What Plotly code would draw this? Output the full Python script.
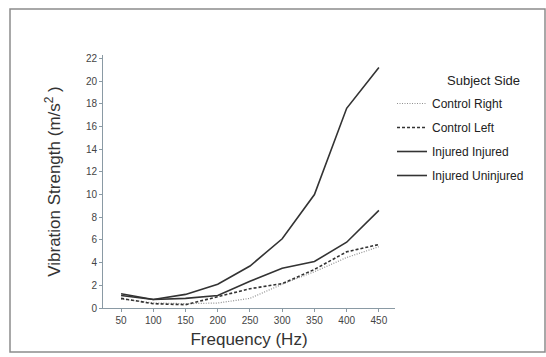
import plotly.graph_objects as go

frequency = [50, 100, 150, 200, 250, 300, 350, 400, 450]
control_right = [0.8, 0.45, 0.38, 0.44, 0.85, 2.1, 3.2, 4.45, 5.4]
control_left = [0.85, 0.38, 0.29, 0.97, 1.7, 2.15, 3.4, 4.95, 5.6]
injured_injured = [1.1, 0.75, 0.85, 1.1, 2.35, 3.5, 4.1, 5.8, 8.6]
injured_uninjured = [1.25, 0.75, 1.2, 2.1, 3.7, 6.1, 10.0, 17.6, 21.2]
y_ticks = list(range(0, 23, 2))
x_ticks = frequency

W, H = 546, 357
L, R, T, B = 103, 151, 55, 49
FONT = "Liberation Sans, Arial, sans-serif"

fig = go.Figure()
fig.add_trace(go.Scatter(x=frequency, y=control_right, mode="lines", name="Control Right",
                         line=dict(color="#8f8f8f", width=1.2, dash="1px,1.5px"), legendgroup="a"))
fig.add_trace(go.Scatter(x=frequency, y=control_left, mode="lines", name="Control Left",
                         line=dict(color="#333333", width=1.6, dash="3px,2px"), legendgroup="b"))
fig.add_trace(go.Scatter(x=frequency, y=injured_injured, mode="lines", name="Injured Injured",
                         line=dict(color="#333333", width=1.6), legendgroup="c"))
fig.add_trace(go.Scatter(x=frequency, y=injured_uninjured, mode="lines", name="Injured Uninjured",
                         line=dict(color="#333333", width=1.6), legendgroup="d"))

pw = W - L - R
ph = H - T - B
def px(x):
    return (x - L) / pw
def py(y):
    return 1 - (y - T) / ph

fig.update_layout(
    width=W, height=H,
    margin=dict(l=L, r=R, t=T, b=B, pad=0),
    paper_bgcolor="white", plot_bgcolor="white",
    font=dict(family=FONT, color="#333333"),
    xaxis=dict(range=[22, 475], tickvals=x_ticks, ticks="outside", ticklen=3,
               tickcolor="#8a9aa4", showline=True, linecolor="#8a9aa4", linewidth=1,
               showgrid=False, zeroline=False, tickfont=dict(size=10, color="#444444"),
               title=dict(text="Frequency (Hz)", font=dict(size=17, color="#333333"), standoff=8)),
    yaxis=dict(range=[0, 22.3], tickvals=y_ticks, ticks="outside", ticklen=3,
               tickcolor="#8a9aa4", showline=True, linecolor="#8a9aa4", linewidth=1,
               showgrid=False, zeroline=False, tickfont=dict(size=10, color="#444444"),
               title=dict(text="Vibration Strength (m/s<sup>2</sup> )",
                          font=dict(size=17, color="#333333"), standoff=20)),
    legend=dict(x=px(392), y=py(89), xanchor="left", yanchor="top",
                font=dict(size=12, color="#222222"), tracegroupgap=5,
                bgcolor="rgba(0,0,0,0)"),
    annotations=[dict(text="Subject Side", xref="paper", yref="paper",
                      x=px(483), y=py(80), xanchor="center", yanchor="middle",
                      showarrow=False, font=dict(size=13, color="#222222"))],
    shapes=[dict(type="rect", xref="paper", yref="paper",
                 x0=px(10), x1=px(545), y0=py(352), y1=py(9),
                 line=dict(color="#8c8c8c", width=1.5), layer="below")],
)

fig.write_html("out.html", config={"displayModeBar": False},
               post_script="document.body.style.margin='0';document.body.style.overflow='hidden';")
